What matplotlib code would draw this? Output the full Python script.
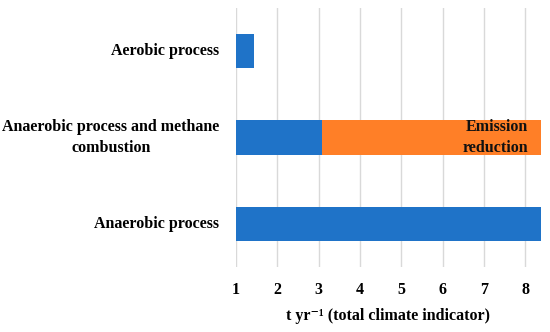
import matplotlib.pyplot as plt

categories = ['Anaerobic process', 'Anaerobic process and methane\ncombustion', 'Aerobic process']
base = [8.38, 3.08, 1.43]
reduction = [0.0, 5.30, 0.0]
xticks = [1, 2, 3, 4, 5, 6, 7, 8]

plt.rcParams['font.family'] = ['Liberation Serif', 'DejaVu Serif']
plt.rcParams['font.weight'] = 'bold'

fig = plt.figure(figsize=(5.5, 3.32), dpi=100)
ax = fig.add_axes([236/550, 1-267/332, 305/550, 259/332])

ypos = range(len(categories))
left = 1
ax.barh(ypos, [b - left for b in base], left=left, height=0.4, color='#1F73C8', zorder=3)
ax.barh(ypos, reduction, left=base, height=0.4, color='#FF7F27', zorder=3)
ax.text(8.06, 1, 'Emission\nreduction', ha='right', va='center', fontsize=11.5,
        fontweight='bold', color='#111111', zorder=4, linespacing=1.45)

ax.set_xlim(1, 8.38)
ax.set_ylim(-0.5, 2.5)
ax.set_xticks(xticks)
ax.set_yticks(list(ypos))
ax.set_yticklabels(categories, fontsize=11.5, fontweight='bold', multialignment='center',
                   linespacing=1.45, va='center')
ax.tick_params(axis='x', length=0, pad=11, labelsize=11.5)
ax.tick_params(axis='y', length=0, pad=12)
ax.grid(axis='x', color='#D9D9D9', linewidth=1, zorder=0)
for s in ax.spines.values():
    s.set_visible(False)
ax.set_xlabel('t yr\u207b\u00b9 (total climate indicator)', fontsize=11.5, fontweight='bold', labelpad=7)

fig.savefig('out.png', dpi=100)
